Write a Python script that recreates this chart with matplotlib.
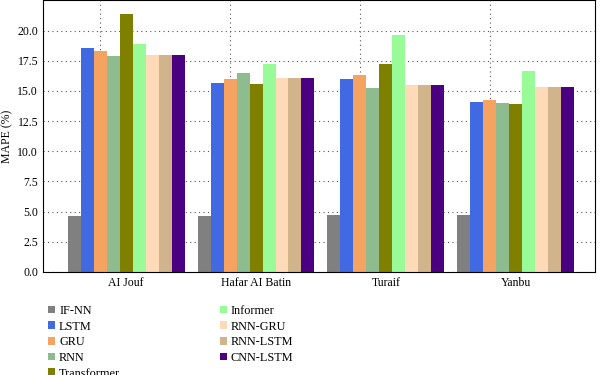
import numpy as np
import matplotlib
matplotlib.use('Agg')
import matplotlib.pyplot as plt

plt.rcParams['font.family'] = ['Liberation Serif', 'DejaVu Serif']

regions = ['AI Jouf', 'Hafar AI Batin', 'Turaif', 'Yanbu']
models = ['IF-NN', 'LSTM', 'GRU', 'RNN', 'Transformer',
          'Informer', 'RNN-GRU', 'RNN-LSTM', 'CNN-LSTM']
colors = ['grey', 'royalblue', 'sandybrown', 'darkseagreen', 'olive',
          'palegreen', 'peachpuff', 'tan', 'indigo']

# MAPE (%) per model, one value per region
mape = {
    'IF-NN':       [4.6, 4.68, 4.73, 4.73],
    'LSTM':        [18.6, 15.67, 15.97, 14.1],
    'GRU':         [18.35, 15.97, 16.3, 14.27],
    'RNN':         [17.9, 16.45, 15.23, 14.03],
    'Transformer': [21.4, 15.55, 17.2, 13.93],
    'Informer':    [18.9, 17.2, 19.65, 16.65],
    'RNN-GRU':     [18.0, 16.04, 15.47, 15.32],
    'RNN-LSTM':    [18.0, 16.04, 15.47, 15.32],
    'CNN-LSTM':    [18.0, 16.1, 15.47, 15.35],
}

fig = plt.figure(figsize=(6, 3.75), dpi=100)
ax = fig.add_axes([0.0717, 0.2747, 0.92, 0.724])

index = np.arange(len(regions))
bar_width = 0.1
for j, m in enumerate(models):
    ax.bar(index + j * bar_width, mape[m], bar_width, color=colors[j], label=m)

ax.set_xlim(-0.24, 4.01)
ax.set_ylim(0, 22.5)
ax.set_yticks(np.arange(0, 20.1, 2.5))
ax.set_xticks(index + 4 * bar_width)
ax.set_xticklabels(regions)
ax.set_xticks(index + 2 * bar_width, minor=True)
ax.tick_params(axis='both', which='both', length=0, labelsize=8.5)
ax.set_axisbelow(True)
ax.grid(axis='y', linestyle=(0, (1, 3)), color='#555555', linewidth=0.8)
ax.grid(axis='x', which='minor', linestyle=(0, (1, 3)), color='#555555', linewidth=0.8)
ax.set_ylabel('MAPE (%)', fontsize=8.5, labelpad=3)

fig.legend(loc='upper left', bbox_to_anchor=(0.072, 0.2), ncol=2,
           frameon=False, fontsize=8.8, handlelength=0.6, handleheight=0.6,
           handletextpad=0.3, labelspacing=0.3, columnspacing=8.15,
           borderaxespad=0)

fig.savefig('out.png', dpi=100)
